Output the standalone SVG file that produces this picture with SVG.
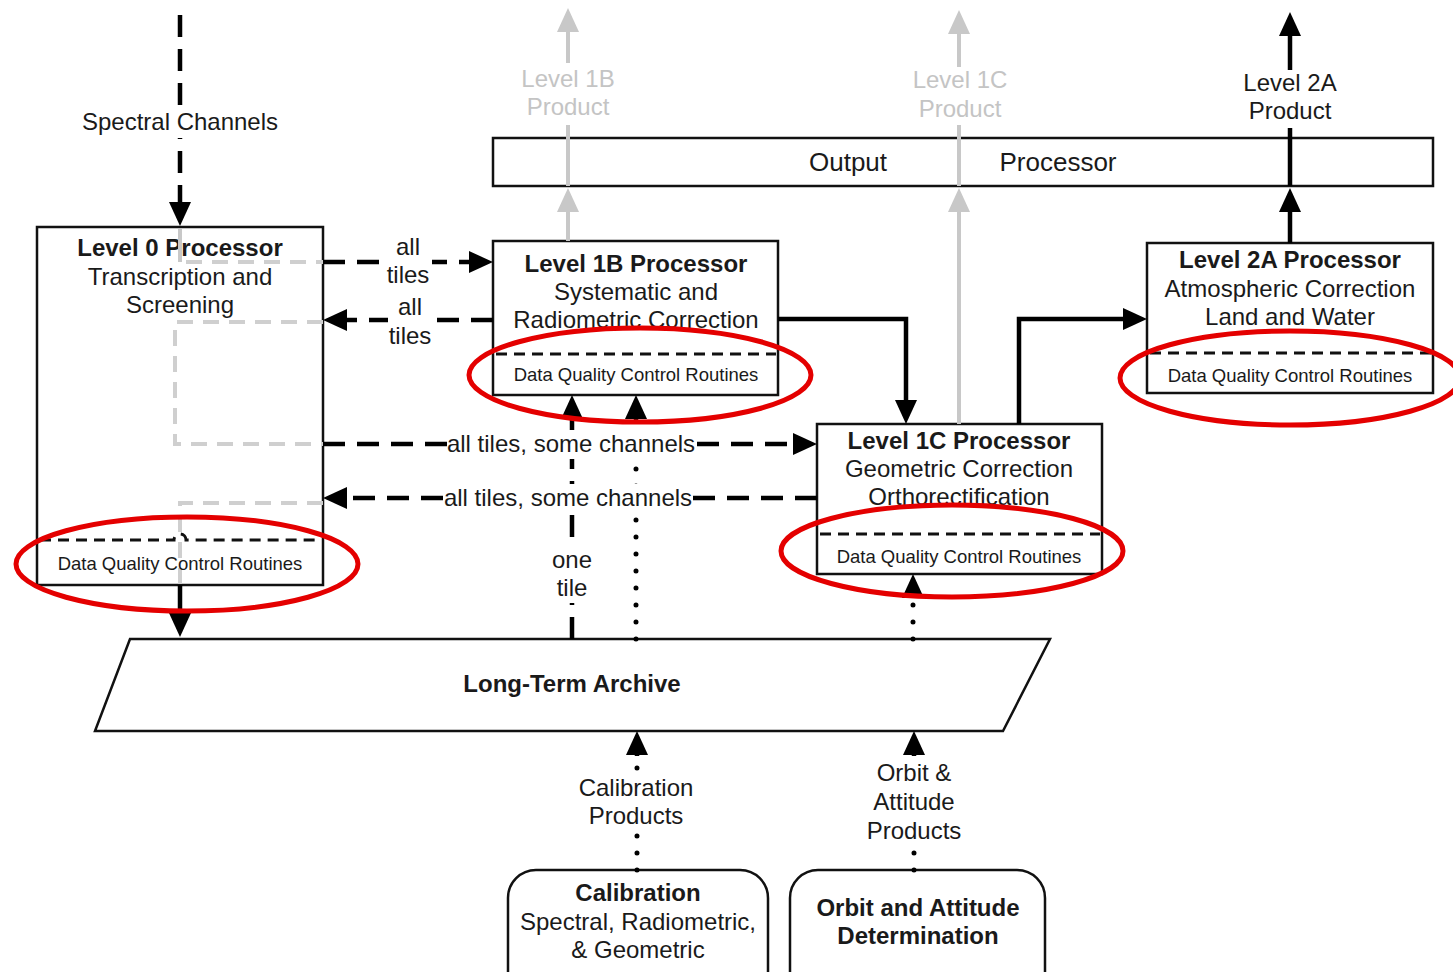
<svg xmlns="http://www.w3.org/2000/svg" width="1453" height="972" viewBox="0 0 1453 972">
<style>
text{font-family:"Liberation Sans",Arial,sans-serif;fill:#1a1a1a;text-anchor:middle}
.t{font-size:24px}
.b{font-size:24px;font-weight:bold}
.s{font-size:18.5px}
.g{fill:#c4c4c4;font-size:24px}
.bg{fill:#fff;stroke:none}
.box{fill:#fff;stroke:#111;stroke-width:2.5}
.div{fill:none;stroke:#111;stroke-width:3;stroke-dasharray:11 7}
.solid{fill:none;stroke:#000;stroke-width:4.5}
.dash{fill:none;stroke:#000;stroke-width:4.5;stroke-dasharray:22 12}
.dot{fill:none;stroke:#000;stroke-width:5;stroke-linecap:round;stroke-dasharray:0 17}
.gray{fill:none;stroke:#c8c8c8;stroke-width:4}
.gdash{fill:none;stroke:#cfcfcf;stroke-width:4;stroke-dasharray:16 10}
.red{fill:none;stroke:#e40000;stroke-width:5}
</style>
<defs>
<marker id="ah" markerUnits="userSpaceOnUse" markerWidth="24" markerHeight="24" refX="4" refY="11" orient="auto"><path d="M0,0 L24,11 L0,22 z" fill="#000"/></marker>
<marker id="ahg" markerUnits="userSpaceOnUse" markerWidth="24" markerHeight="24" refX="4" refY="11" orient="auto"><path d="M0,0 L24,11 L0,22 z" fill="#c8c8c8"/></marker>
</defs>

<g id="output-processor">
<rect class="box" x="493" y="138" width="940" height="48" stroke-width="3"/>
<text x="848" y="171" font-size="26">Output</text>
<text x="1058" y="171" font-size="26">Processor</text>
</g>

<g id="level0">
<rect class="box" x="37" y="227" width="286" height="358"/>
<text class="b" x="180" y="256">Level 0 Processor</text>
<text class="t" x="180" y="285">Transcription and</text>
<text class="t" x="180" y="313">Screening</text>
</g>

<g id="level1b">
<rect class="box" x="493" y="241" width="285" height="154"/>
<path class="div" d="M496,354 H776"/>
<text class="b" x="636" y="272">Level 1B Processor</text>
<text class="t" x="636" y="300">Systematic and</text>
<text class="t" x="636" y="328">Radiometric Correction</text>
<text class="s" x="636" y="381">Data Quality Control Routines</text>
</g>

<g id="level1c">
<rect class="box" x="817" y="424" width="285" height="150"/>
<path class="div" d="M820,534 H1100"/>
<text class="b" x="959" y="449">Level 1C Processor</text>
<text class="t" x="959" y="477">Geometric Correction</text>
<text class="t" x="959" y="505">Orthorectification</text>
<text class="s" x="959" y="563">Data Quality Control Routines</text>
</g>

<g id="level2a">
<rect class="box" x="1147" y="243" width="286" height="150"/>
<path class="div" d="M1150,353 H1431"/>
<text class="b" x="1290" y="268">Level 2A Processor</text>
<text class="t" x="1290" y="297">Atmospheric Correction</text>
<text class="t" x="1290" y="325">Land and Water</text>
<text class="s" x="1290" y="382">Data Quality Control Routines</text>
</g>

<g id="archive">
<polygon class="box" points="130,639 1050,639 1003,731 95,731"/>
<text class="b" x="572" y="692">Long-Term Archive</text>
</g>

<g id="calibration">
<rect class="box" x="508" y="870" width="260" height="130" rx="28"/>
<text class="b" x="638" y="901">Calibration</text>
<text class="t" x="638" y="930">Spectral, Radiometric,</text>
<text class="t" x="638" y="958">&amp; Geometric</text>
</g>

<g id="orbit">
<rect class="box" x="790" y="870" width="255" height="130" rx="28"/>
<text class="b" x="918" y="916">Orbit and Attitude</text>
<text class="b" x="918" y="944">Determination</text>
</g>

<g id="connectors">
<path class="gray" d="M180,229 V262"/>
<path class="gdash" d="M186,262 H323"/>
<path class="gdash" d="M323,322 H175 V444 H323"/>
<path class="gdash" d="M323,503 H180 V585"/>
<path class="div" d="M40,540 H174 A6,6 0 0 1 186,540 H321"/>
<text class="s" x="180" y="570">Data Quality Control Routines</text>

<path class="dash" d="M180,15 V206" marker-end="url(#ah)"/>
<path class="dash" d="M323,262 H473" marker-end="url(#ah)"/>
<path class="dash" d="M493,320 H343" marker-end="url(#ah)"/>
<path class="dash" d="M323,444 H797" marker-end="url(#ah)"/>
<path class="dash" d="M817,498 H343" marker-end="url(#ah)"/>
<path class="solid" d="M180,585 V617" marker-end="url(#ah)"/>

<path class="solid" d="M778,319 H906 V404" marker-end="url(#ah)"/>
<path class="solid" d="M1019,424 V319 H1127" marker-end="url(#ah)"/>
<path class="solid" d="M1290,243 V208" marker-end="url(#ah)"/>
<path class="solid" d="M1290,186 V128"/>
<path class="solid" d="M1290,70 V32" marker-end="url(#ah)"/>

<path class="gray" d="M568,241 V208" marker-end="url(#ahg)"/>
<path class="gray" d="M568,186 V125"/>
<path class="gray" d="M568,63 V28" marker-end="url(#ahg)"/>
<path class="gray" d="M959,424 V208" marker-end="url(#ahg)"/>
<path class="gray" d="M959,186 V125"/>
<path class="gray" d="M959,67 V30" marker-end="url(#ahg)"/>

<path class="dash" d="M572,639 V415" marker-end="url(#ah)"/>
<path class="dot" d="M636,639 V418"/>
<path class="solid" d="M636,420 V415" marker-end="url(#ah)"/>
<path class="dot" d="M913,639 V597"/>
<path class="solid" d="M913,598 V594" marker-end="url(#ah)"/>
<path class="dot" d="M637,870 V754"/>
<path class="solid" d="M637,756 V751" marker-end="url(#ah)"/>
<path class="dot" d="M914,870 V754"/>
<path class="solid" d="M914,756 V751" marker-end="url(#ah)"/>

<rect class="bg" x="82" y="108" width="196" height="30"/>
<rect class="bg" x="386" y="236" width="46" height="54"/>
<rect class="bg" x="388" y="296" width="46" height="54"/>
<rect class="bg" x="447" y="430" width="250" height="29"/>
<rect class="bg" x="443" y="484" width="250" height="29"/>
<rect class="bg" x="548" y="545" width="48" height="58"/>
<rect class="bg" x="575" y="773" width="122" height="58"/>
<rect class="bg" x="864" y="758" width="100" height="88"/>

<text class="t" x="180" y="130">Spectral Channels</text>
<text class="t" x="408" y="255">all</text>
<text class="t" x="408" y="283">tiles</text>
<text class="t" x="410" y="315">all</text>
<text class="t" x="410" y="344">tiles</text>
<text class="t" x="571" y="452">all tiles, some channels</text>
<text class="t" x="568" y="506">all tiles, some channels</text>
<text class="t" x="572" y="568">one</text>
<text class="t" x="572" y="596">tile</text>
<text class="t" x="636" y="796">Calibration</text>
<text class="t" x="636" y="824">Products</text>
<text class="t" x="914" y="781">Orbit &amp;</text>
<text class="t" x="914" y="810">Attitude</text>
<text class="t" x="914" y="839">Products</text>
<text class="g" x="568" y="87">Level 1B</text>
<text class="g" x="568" y="115">Product</text>
<text class="g" x="960" y="88">Level 1C</text>
<text class="g" x="960" y="117">Product</text>
<text class="t" x="1290" y="91">Level 2A</text>
<text class="t" x="1290" y="119">Product</text>
</g>

<g id="highlights">
<ellipse class="red" cx="187" cy="564" rx="171" ry="47"/>
<ellipse class="red" cx="640" cy="375" rx="171" ry="47"/>
<ellipse class="red" cx="952" cy="551" rx="171" ry="46"/>
<ellipse class="red" cx="1290" cy="378" rx="170" ry="47"/>
</g>
</svg>
